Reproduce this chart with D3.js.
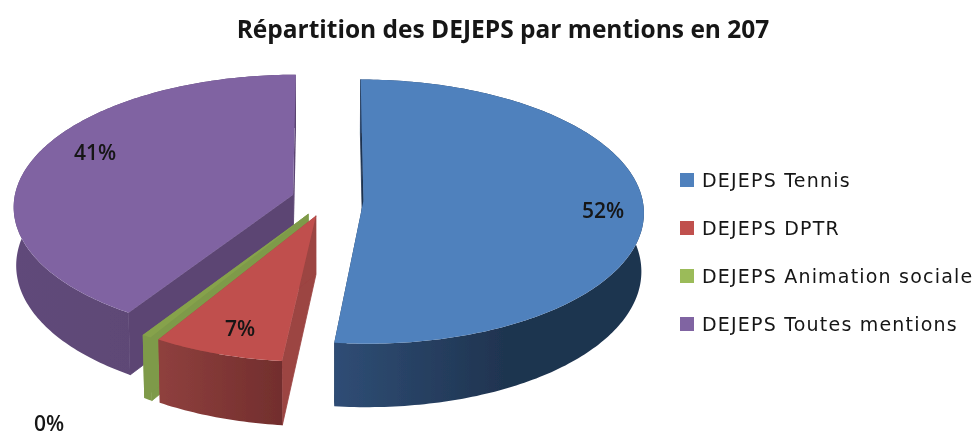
<!DOCTYPE html>
<html><head><meta charset="utf-8">
<script src="https://cdn.jsdelivr.net/npm/d3@7"></script>
<style>html,body{margin:0;padding:0;background:#fff}svg{display:block}text{fill:#141414}</style>
</head><body><svg id="c" width="976" height="437"></svg>
<script>
const titleText = "Répartition des DEJEPS par mentions en 207";
const categories = ["DEJEPS Tennis","DEJEPS DPTR","DEJEPS Animation sociale","DEJEPS Toutes mentions"];
const values = [51.7, 6.9, 0.49, 40.91];
const valueLabels = ["52%","7%","0%","41%"];
const topColors = ["#4f81bd","#c0504d","#86a24c","#8064a2"];
const legendColors = ["#4f81bd","#c0504d","#9bbb59","#8064a2"];
const faceColors = ["#1f3450","#9c4442","#7e9a48","#5c4573"];
const sideStart = ["#2f4d75","#8f403e","#7e9a48","#604a7a"];
const sideEnd = ["#1f3450","#722e2d","#7e9a48","#5a4470"];
const labelPos = [[603,210],[240,328],[49,423],[95,152]];

const svg = d3.select("#c");
const defs = svg.append("defs");
defs.append("filter").attr("id","soft").append("feGaussianBlur").attr("stdDeviation",0.4);

const CX=327.5, CY=199.5, K=0.085, EXPLODE=0.129, DEPTH=58;
const sx=d3.scaleLinear().domain([-1,1]).range([CX-279,CX+279]);
const sy=d3.scaleLinear().domain([-1,1]).range([CY-131,CY+131]);
function project(u,v,down){
  const s=1/(1-K*v);
  const x=CX+(sx(u)-CX)*s, y=CY+(sy(v)-CY)*s;
  if(!down) return [x,y];
  return [CX+(x-CX)*0.992, y+DEPTH*s];
}
const pie=d3.pie().sort(null).value(d=>d)(values);
const line=d3.line();
const slices=pie.map((a,i)=>{
  const mid=(a.startAngle+a.endAngle)/2, ox=EXPLODE*Math.sin(mid), oy=-EXPLODE*Math.cos(mid);
  const rim=r=>{const n=Math.max(3,Math.ceil((a.endAngle-a.startAngle)*60));
    return d3.range(n+1).map(j=>{const t=a.startAngle+(a.endAngle-a.startAngle)*j/n;
      return project(ox+Math.sin(t),oy-Math.cos(t),r);});};
  return {i,apexT:project(ox,oy,false),apexB:project(ox,oy,true),rimT:rim(false),rimB:rim(true)};
});
const g=svg.append("g").attr("filter","url(#soft)");
[3,2,1,0].forEach(i=>{
  const s=slices[i];
  const xs=s.rimT.map(p=>p[0]);
  const gid="side"+i;
  const lg=defs.append("linearGradient").attr("id",gid).attr("gradientUnits","userSpaceOnUse")
    .attr("x1",d3.min(xs)).attr("x2",i===0?d3.min(xs)+170:d3.max(xs)).attr("y1",0).attr("y2",0);
  lg.append("stop").attr("offset",0).attr("stop-color",sideStart[i]);
  lg.append("stop").attr("offset",1).attr("stop-color",sideEnd[i]);
  const first=s.rimT[0], firstB=s.rimB[0], last=s.rimT[s.rimT.length-1], lastB=s.rimB[s.rimB.length-1];
  g.append("path").attr("d",line([s.apexT,first,firstB,s.apexB])+"Z").attr("fill",faceColors[i]).attr("stroke",faceColors[i]).attr("stroke-width",0.8);
  g.append("path").attr("d",line([s.apexT,last,lastB,s.apexB])+"Z").attr("fill",faceColors[i]);
  g.append("path").attr("d",line(s.rimT.concat(s.rimB.slice().reverse()))+"Z").attr("fill",`url(#${gid})`);
  g.append("path").attr("d",line([s.apexT,...s.rimT])+"Z").attr("fill",topColors[i]);
});

const tg=svg.append("g").attr("filter","url(#soft)");
tg.append("text").attr("x",503).attr("y",38).attr("text-anchor","middle")
  .attr("font-family","'Open Sans'").attr("font-weight",700).attr("font-size",24.5).text(titleText);
valueLabels.forEach((t,i)=>{
  tg.append("text").attr("x",labelPos[i][0]).attr("y",labelPos[i][1]).attr("dy","0.36em").attr("text-anchor","middle")
    .attr("font-family","'Open Sans'").attr("font-weight",600).attr("font-size",21).text(t);
});
const legY=d3.scalePoint().domain(categories).range([180,324]);
categories.forEach((c,i)=>{
  svg.append("rect").attr("x",680).attr("y",legY(c)-7).attr("width",14).attr("height",14).attr("fill",legendColors[i]);
  tg.append("text").attr("x",702).attr("y",legY(c)).attr("dy","0.36em")
    .attr("font-family","'DejaVu Sans'").attr("font-size",19).attr("letter-spacing",1.2).text(c);
});
</script></body></html>
